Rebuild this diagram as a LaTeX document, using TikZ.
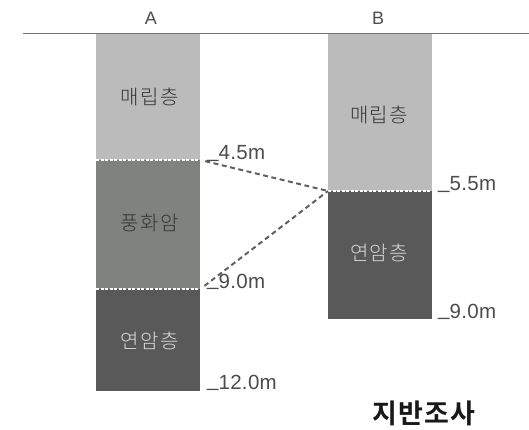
\documentclass[tikz,border=0pt]{standalone}
\usepackage{fontspec}
\setmainfont{Liberation Sans}
\newfontfamily\depthfont[LetterSpace=1.5]{Liberation Sans}
\newfontfamily\kr[LetterSpace=7]{Noto Sans CJK KR Light}
\newfontfamily\krb[LetterSpace=4]{Noto Sans CJK KR Bold}
\definecolor{lightlayer}{HTML}{BBBBBB}
\definecolor{midlayer}{HTML}{7F8380}
\definecolor{darklayer}{HTML}{595959}
\newcommand{\tick}{\raisebox{0.125em}{\_}}
\tikzset{
  x=1pt,y=-1pt,
  layer/.style={anchor=north west,inner sep=0pt,minimum width=104pt,text width=104pt,align=center},
  lab/.style={font=\fontsize{20}{21}\selectfont\kr,text=#1,inner sep=0pt},
  depth/.style={font=\fontsize{20.5}{21}\selectfont\depthfont,text=black!70,anchor=base west,inner sep=0pt},
  head/.style={font=\fontsize{18}{18}\selectfont,text=black!70,inner sep=0pt},
  bound/.style={draw=white,line width=2pt,dash pattern=on 3pt off 1.5pt},
  tie/.style={draw=black!62,line width=2pt,dash pattern=on 5pt off 3.5pt,shorten <=5pt}
}
\begin{document}
\begin{tikzpicture}
\useasboundingbox (0,0) rectangle (529,430);
\fill[white] (0,0) rectangle (529,430);
% layers A
\node[layer,fill=lightlayer,minimum height=126pt] (a1) at (96,34) {};
\node[layer,fill=midlayer,minimum height=129pt] (a2) at (96,160) {};
\node[layer,fill=darklayer,minimum height=102pt] (a3) at (96,289) {};
% layers B
\node[layer,fill=lightlayer,minimum height=157pt] (b1) at (328,34) {};
\node[layer,fill=darklayer,minimum height=128pt] (b2) at (328,191) {};
% ground
\coordinate (g1) at (23,34);
\coordinate (g2) at (529,34);
\draw[black!55,line width=1pt] (g1) -- (g2);
% boundaries
\draw[bound] (a2.north west) -- (a2.north east);
\draw[bound] (a3.north west) -- (a3.north east);
\draw[bound] (b2.north west) -- (b2.north east);
% ties
\draw[tie] (a2.north east) -- (b2.north west);
\draw[tie] (a3.north east) -- (b2.north west);
% texts
\node[head] (ha) at (151,18) {A};
\node[head] (hb) at (378,18) {B};
\node[lab=black!80] at (149.5,97) {매립층};
\node[lab=black!80] at (149.5,223) {풍화암};
\node[lab=white!85!black] at (149.5,341) {연암층};
\node[lab=black!80] at (379,115) {매립층};
\node[lab=white!85!black] at (379,253) {연암층};
\node[depth] at (207,160) {\tick 4.5m};
\node[depth] at (207,288) {\tick 9.0m};
\node[depth] at (207,389) {\tick 12.0m};
\node[depth] at (438,191) {\tick 5.5m};
\node[depth] at (438,318) {\tick 9.0m};
\node[font=\fontsize{27}{28}\selectfont\krb,text=black!90,inner sep=0pt] at (424,413) {지반조사};
\end{tikzpicture}
\end{document}
